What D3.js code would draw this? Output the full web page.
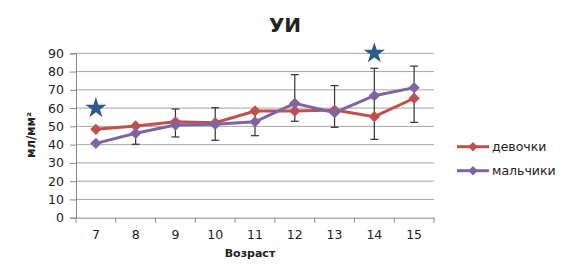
<!DOCTYPE html>
<html>
<head>
<meta charset="utf-8">
<script src="https://cdn.jsdelivr.net/npm/d3@7"></script>
<style>
  body { margin: 0; background: #fff; }
  text { font-family: "DejaVu Sans", sans-serif; fill: #222; }
</style>
</head>
<body>
<svg id="chart"></svg>
<script>
// ages on the x axis
const ages = ["7", "8", "9", "10", "11", "12", "13", "14", "15"];
// series values
const girls = [48.4, 50.2, 52.5, 52.0, 58.4, 58.4, 58.9, 55.3, 65.4];
const boys = [40.7, 46.2, 50.7, 51.1, 52.5, 62.6, 57.5, 66.8, 71.2];
// error bars (low / high), null = none
const errLow = [null, 40.2, 44.2, 42.4, 44.9, 52.8, 49.5, 42.9, 52.2];
const errHigh = [null, 50, 59.5, 60.2, 58, 78.3, 72.3, 81.8, 83.0];
// significance stars
const stars = [{ age: "7", value: 60 }, { age: "14", value: 90 }];
const yTicks = [0, 10, 20, 30, 40, 50, 60, 70, 80, 90];
const seriesNames = ["девочки", "мальчики"];

const width = 574, height = 279;
const margin = { top: 53.3, right: 140, bottom: 61.3, left: 76 };

const svg = d3.select("#chart").attr("width", width).attr("height", height);

const x = d3.scaleBand().domain(ages).range([margin.left, width - margin.right]);
const y = d3.scaleLinear().domain([0, 90]).range([height - margin.bottom, margin.top]);

const series = [
  { name: seriesNames[0], values: girls, color: "#c0504d" },
  { name: seriesNames[1], values: boys, color: "#8064a2" }
];

// gridlines
svg.append("g")
  .selectAll("line")
  .data(yTicks.slice(1))
  .join("line")
  .attr("x1", margin.left)
  .attr("x2", width - margin.right)
  .attr("y1", d => y(d))
  .attr("y2", d => y(d))
  .attr("stroke", "#a6a6a6")
  .attr("stroke-width", 1);

// y axis
const yAxis = d3.axisLeft(y).tickValues(yTicks).tickSize(6).tickPadding(6);
const yAxisG = svg.append("g")
  .attr("transform", `translate(${margin.left},0)`)
  .call(yAxis);

// x axis
const xAxis = d3.axisBottom(x).tickSize(0).tickPadding(12);
const xAxisG = svg.append("g")
  .attr("transform", `translate(0,${y(0)})`)
  .call(xAxis);

// x axis boundary ticks
svg.append("g")
  .selectAll("line")
  .data(d3.range(ages.length + 1))
  .join("line")
  .attr("x1", i => margin.left + i * x.step())
  .attr("x2", i => margin.left + i * x.step())
  .attr("y1", y(0))
  .attr("y2", y(0) + 5)
  .attr("stroke", "#888");

[yAxisG, xAxisG].forEach(g => {
  g.select(".domain").attr("stroke", "#888");
  g.selectAll(".tick line").attr("stroke", "#888");
  g.selectAll(".tick text").style("font-size", "12.5px").attr("fill", "#333");
});

const cx = d => x(d) + x.bandwidth() / 2;

// error bars
const errG = svg.append("g").attr("stroke", "#333").attr("stroke-width", 1.2);
ages.forEach((a, i) => {
  if (errLow[i] == null) return;
  const px = cx(a);
  errG.append("line").attr("x1", px).attr("x2", px).attr("y1", y(errLow[i])).attr("y2", y(errHigh[i]));
  errG.append("line").attr("x1", px - 4).attr("x2", px + 4).attr("y1", y(errLow[i])).attr("y2", y(errLow[i]));
  errG.append("line").attr("x1", px - 4).attr("x2", px + 4).attr("y1", y(errHigh[i])).attr("y2", y(errHigh[i]));
});

// lines and markers
const line = d3.line().x((d, i) => cx(ages[i])).y(d => y(d));
const diamond = d3.symbol().type(d3.symbolSquare).size(64);

series.forEach(s => {
  svg.append("path")
    .datum(s.values)
    .attr("fill", "none")
    .attr("stroke", s.color)
    .attr("stroke-width", 3)
    .attr("d", line);
  svg.append("g")
    .selectAll("path")
    .data(s.values)
    .join("path")
    .attr("d", diamond)
    .attr("fill", s.color)
    .attr("transform", (d, i) => `translate(${cx(ages[i])},${y(d)}) rotate(45)`);
});

// stars
svg.append("g")
  .selectAll("path")
  .data(stars)
  .join("path")
  .attr("d", d3.symbol().type(d3.symbolStar).size(140))
  .attr("fill", "#2f5b8c")
  .attr("transform", d => `translate(${cx(d.age)},${y(d.value)})`);

// title
svg.append("text")
  .attr("x", 285)
  .attr("y", 32)
  .attr("text-anchor", "middle")
  .style("font-size", "20px")
  .style("font-weight", "bold")
  .text("УИ");

// axis titles
svg.append("text")
  .attr("x", 250)
  .attr("y", 257)
  .attr("text-anchor", "middle")
  .style("font-size", "11px")
  .style("font-weight", "bold")
  .text("Возраст");

svg.append("text")
  .attr("transform", `translate(35,135) rotate(-90)`)
  .attr("text-anchor", "middle")
  .style("font-size", "11.5px")
  .style("font-weight", "bold")
  .text("мл/мм²");

// legend
const legend = svg.append("g");
series.forEach((s, i) => {
  const ly = 146.7 + i * 24;
  legend.append("line")
    .attr("x1", 457).attr("x2", 489).attr("y1", ly).attr("y2", ly)
    .attr("stroke", s.color).attr("stroke-width", 3);
  legend.append("path")
    .attr("d", d3.symbol().type(d3.symbolSquare).size(44))
    .attr("fill", s.color)
    .attr("transform", `translate(473,${ly}) rotate(45)`);
  legend.append("text")
    .attr("x", 492).attr("y", ly + 4.5)
    .style("font-size", "12.5px")
    .text(s.name);
});
</script>
</body>
</html>
